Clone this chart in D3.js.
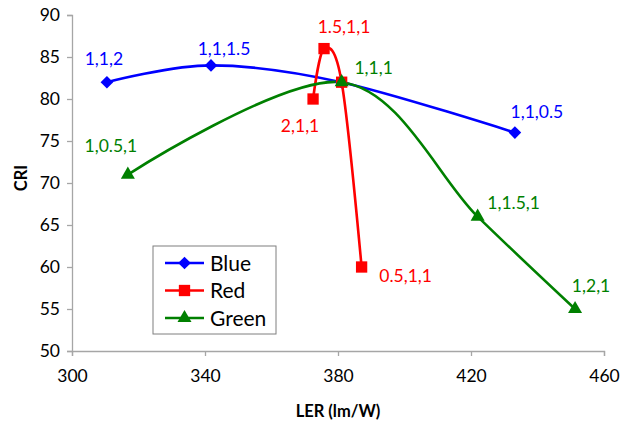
<!DOCTYPE html>
<html><head><meta charset="utf-8">
<script src="https://cdn.jsdelivr.net/npm/d3@7/dist/d3.min.js"></script>
<style>
html,body{margin:0;padding:0;background:#fff;}
svg{display:block;font-family:Lato,"Open Sans",sans-serif;}
</style></head>
<body><svg id="c" width="629" height="425"></svg>
<script>
// ---- data ----
const seriesNames = ["Blue", "Red", "Green"];
const blueLER = [310.5, 341.8, 381.0, 433.2];
const blueCRI = [82, 84, 82, 76];
const blueLabels = ["1,1,2", "1,1,1.5", "", "1,1,0.5"];
const redLER = [372.5, 375.8, 381.1, 387.1];
const redCRI = [80, 86, 82, 60];
const redLabels = ["2,1,1", "1.5,1,1", "", "0.5,1,1"];
const greenLER = [316.8, 381.1, 422.0, 451.3];
const greenCRI = [71, 82, 66, 55];
const greenLabels = ["1,0.5,1", "1,1,1", "1,1.5,1", "1,2,1"];
const xTicks = [300, 340, 380, 420, 460];
const yTicks = [50, 55, 60, 65, 70, 75, 80, 85, 90];
const xTitle = "LER (lm/W)";
const yTitle = "CRI";

// ---- style / layout ----
const colors = ["#0000ff", "#ff0000", "#008000"];
const symbols = [d3.symbolSquare, d3.symbolSquare, d3.symbolTriangle];
const symRot = [45, 0, 0];
const symSizes = [80, 128, 85];
// label offsets (dx, dy) relative to each point, per series
const labelOffsets = [
  [[-3, -23], [13, -17], [0, 0], [22, -21]],
  [[-13, 27], [20, -22], [0, 0], [44, 9]],
  [[-17, -29], [32, -14], [36, -14], [16, -23]]
];

const svg = d3.select("#c");
const x = d3.scaleLinear().domain([300, 460]).range([72, 604]);
const y = d3.scaleLinear().domain([50, 90]).range([351, 15]);
const axisColor = "#a6a6a6";

// y axis
const gy = svg.append("g").attr("transform", `translate(${x(300)},0)`)
  .call(d3.axisLeft(y).tickValues(yTicks).tickSize(5).tickPadding(7));
// x axis
const gx = svg.append("g").attr("transform", `translate(0,${y(50)})`)
  .call(d3.axisBottom(x).tickValues(xTicks).tickSize(5).tickPadding(14));
[gx, gy].forEach(g => {
  g.select(".domain").attr("stroke", axisColor).attr("stroke-width", 1.3);
  g.selectAll(".tick line").attr("stroke", axisColor).attr("stroke-width", 1.3);
  g.selectAll("text").attr("fill", "#000").style("font-size", "17.5px")
    .style("font-family", "Lato, 'Open Sans', sans-serif");
});
gx.selectAll(".tick text").attr("dy", "0.71em");

svg.append("text").attr("x", x(380)).attr("y", 417).attr("text-anchor", "middle")
  .style("font-size", "16.5px").style("font-weight", "bold").text(xTitle);
svg.append("text").attr("transform", `translate(27,${y(70.6)}) rotate(-90)`)
  .attr("text-anchor", "middle").style("font-size", "16.5px").style("font-weight", "bold").text(yTitle);

const series = [
  {xs: blueLER, ys: blueCRI, labels: blueLabels},
  {xs: redLER, ys: redCRI, labels: redLabels},
  {xs: greenLER, ys: greenCRI, labels: greenLabels}
];

const line = d3.line().x(d => x(d[0])).y(d => y(d[1])).curve(d3.curveCatmullRom.alpha(0));

series.forEach((s, i) => {
  const pts = s.xs.map((v, k) => [v, s.ys[k]]);
  svg.append("path").datum(pts).attr("d", line).attr("fill", "none")
    .attr("stroke", colors[i]).attr("stroke-width", 2.6);
});
series.forEach((s, i) => {
  const pts = s.xs.map((v, k) => [v, s.ys[k]]);
  svg.append("g").selectAll("path").data(pts).join("path")
    .attr("transform", d => `translate(${x(d[0])},${y(d[1])}) rotate(${symRot[i]})`)
    .attr("d", d3.symbol().type(symbols[i]).size(symSizes[i]))
    .attr("fill", colors[i]);
});
series.forEach((s, i) => {
  s.labels.forEach((lab, k) => {
    if (!lab) return;
    svg.append("text")
      .attr("x", x(s.xs[k]) + labelOffsets[i][k][0])
      .attr("y", y(s.ys[k]) + labelOffsets[i][k][1])
      .attr("dy", "0.35em").attr("text-anchor", "middle")
      .attr("fill", colors[i]).style("font-size", "17.5px").text(lab);
  });
});

// legend
const lg = svg.append("g").attr("transform", "translate(153,246)");
lg.append("rect").attr("width", 123).attr("height", 88).attr("fill", "#fff")
  .attr("stroke", "#7f7f7f").attr("stroke-width", 1);
seriesNames.forEach((n, i) => {
  const cy = 17 + i * 27.5;
  lg.append("line").attr("x1", 12).attr("x2", 51).attr("y1", cy).attr("y2", cy)
    .attr("stroke", colors[i]).attr("stroke-width", 2.6);
  lg.append("path").attr("transform", `translate(31.5,${cy}) rotate(${symRot[i]})`)
    .attr("d", d3.symbol().type(symbols[i]).size(symSizes[i])).attr("fill", colors[i]);
  lg.append("text").attr("x", 57).attr("y", cy).attr("dy", "0.36em")
    .style("font-size", "21px").text(n);
});
</script></body></html>
